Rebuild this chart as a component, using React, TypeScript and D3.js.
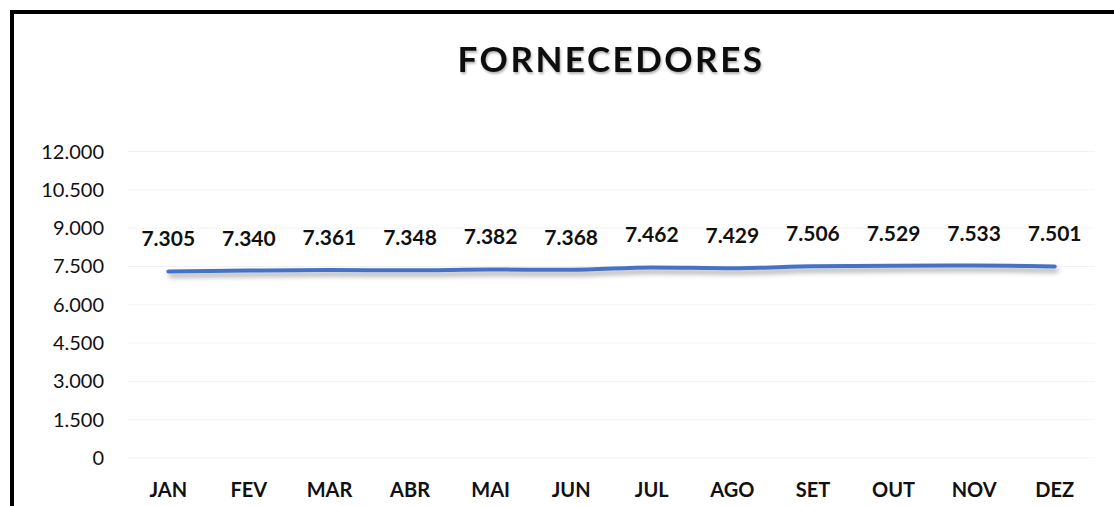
import React from "react";
import * as d3 from "d3";

const months = ["JAN", "FEV", "MAR", "ABR", "MAI", "JUN", "JUL", "AGO", "SET", "OUT", "NOV", "DEZ"];
const values = [7305, 7340, 7361, 7348, 7382, 7368, 7462, 7429, 7506, 7529, 7533, 7501];
const yTicks = [0, 1500, 3000, 4500, 6000, 7500, 9000, 10500, 12000];
const title = "FORNECEDORES";

const W = 1114;
const H = 506;
const fmt = (v: number) => d3.format(",")(v).replace(/,/g, ".");
const FONT = "Lato, 'Open Sans', 'Liberation Sans', sans-serif";

export default function App() {
  const x = d3.scaleBand<string>().domain(months).range([128, 1095]);
  const y = d3.scaleLinear().domain([0, 12000]).range([458, 151.5]);
  const line = d3
    .line<number>()
    .x((_, i) => (x(months[i]) as number) + x.bandwidth() / 2)
    .y((d) => y(d))
    .curve(d3.curveMonotoneX);

  return (
    <svg width={W} height={H} style={{ position: "absolute", left: 0, top: 0, background: "#fff" }}>
      <defs>
        <filter id="sh" x="-5%" y="-100%" width="110%" height="400%">
          <feDropShadow dx="2" dy="4" stdDeviation="2.5" floodColor="#000" floodOpacity="0.35" />
        </filter>
        <filter id="tsh" x="-5%" y="-20%" width="110%" height="160%">
          <feDropShadow dx="1" dy="2" stdDeviation="1.2" floodColor="#000" floodOpacity="0.3" />
        </filter>
      </defs>
      <rect x={12} y={12} width={W + 20} height={H + 20} fill="#fff" stroke="#000" strokeWidth={4} />
      <text
        x={611}
        y={72}
        textAnchor="middle"
        fontFamily={FONT}
        fontWeight="bold"
        fontSize={35}
        letterSpacing={2.5}
        fill="#0d0d0d"
        filter="url(#tsh)"
      >
        {title}
      </text>
      {yTicks.map((t) => (
        <g key={t}>
          <line x1={128} x2={1095} y1={y(t)} y2={y(t)} stroke="#f2f2f2" strokeWidth={1} />
          <text x={104} y={y(t) + 7} textAnchor="end" fontFamily={FONT} fontSize={20} fill="#111">
            {fmt(t)}
          </text>
        </g>
      ))}
      <path d={line(values) || ""} fill="none" stroke="#4472C4" strokeWidth={4} strokeLinecap="round" filter="url(#sh)" />
      {values.map((v, i) => (
        <text
          key={i}
          x={(x(months[i]) as number) + x.bandwidth() / 2}
          y={y(v) - 25}
          textAnchor="middle"
          fontFamily={FONT}
          fontWeight="bold"
          fontSize={21}
          fill="#111"
        >
          {fmt(v)}
        </text>
      ))}
      {months.map((m) => (
        <text
          key={m}
          x={(x(m) as number) + x.bandwidth() / 2}
          y={497}
          textAnchor="middle"
          fontFamily={FONT}
          fontWeight="bold"
          fontSize={20}
          fill="#111"
        >
          {m}
        </text>
      ))}
    </svg>
  );
}
